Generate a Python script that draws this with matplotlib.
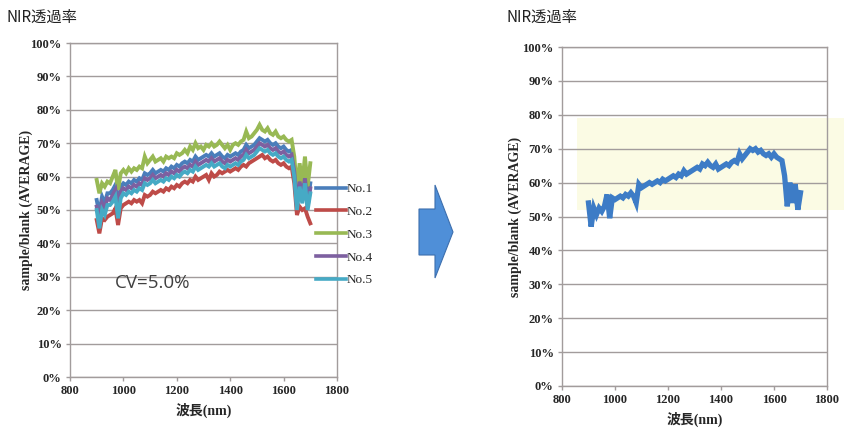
import matplotlib
matplotlib.use("Agg")
import matplotlib.pyplot as plt
import numpy as np
from matplotlib.ticker import PercentFormatter, MultipleLocator
from matplotlib.patches import Polygon, Rectangle

# ---------------- data ----------------
wavelength = list(range(900, 1701, 10))

no1 = [53, 49, 54, 52, 55, 55, 56, 57.5, 51, 57, 58, 57.5, 58.5, 58, 59, 58.5, 59.5, 59, 61, 60.5,
       61, 62, 61, 61.5, 62, 61.5, 62.5, 62, 63, 62.5, 63.5, 63, 64, 64.5, 64, 65, 64.5, 66, 65, 65.5,
       66, 66.5, 66, 67, 66, 66.5, 67, 66, 65.5, 66.5, 66, 66.5, 67, 66.5, 67.5, 68, 69.5, 68.5, 69, 69.5,
       70.5, 71.5, 71, 70.5, 71, 70, 69.5, 70, 69, 68.5, 69, 68, 67.5, 68, 63, 52, 60, 54, 61, 52, 58]
no2 = [47, 43, 47.5, 47, 48, 48.5, 49, 50.5, 45.5, 50.5, 51.5, 52, 52.5, 52, 53, 52.5, 53, 52, 54.5, 54,
       54.5, 55.5, 55, 55.5, 56, 55.5, 56.5, 56, 57, 56.5, 57.5, 57, 58, 58.5, 58, 59, 58.5, 60, 59, 59.5,
       60, 60.5, 59, 61, 60, 60.5, 61.5, 61, 61.5, 62, 61.5, 62, 62.5, 62, 63, 63.5, 63, 64, 64.5, 65,
       65.5, 66, 66.5, 65.5, 66, 65, 64.5, 65, 64, 63.5, 64, 63, 62.5, 63, 58, 48.5, 51, 50, 50.5, 48, 46]
no3 = [59, 55, 58, 57, 58.5, 58, 60, 62, 56, 61, 62, 61, 62.5, 61.5, 62.5, 62, 63, 62.5, 66, 64,
       65, 66, 64.5, 65, 65.5, 64.5, 66, 65.5, 66, 65.5, 67, 66.5, 67, 68, 67, 69, 68, 70, 68.5, 69,
       68, 69.5, 69, 70, 69, 69.5, 70.5, 69.5, 68.5, 69.5, 68, 69.5, 70, 69.5, 70.5, 71, 73.5, 71.5, 72, 73,
       74, 75.5, 74, 73.5, 74.5, 73, 72.5, 73.5, 72, 71.5, 72, 71, 70.5, 71, 66, 56, 64, 58, 66, 57, 64]
no4 = [51, 47, 52, 50.5, 53.5, 53, 54.5, 56, 49.5, 55.5, 56.5, 56, 57, 56.5, 57.5, 57, 58, 57.5, 59.5, 59,
       59.5, 60.5, 59.5, 60, 60.5, 60, 61, 60.5, 61.5, 61, 62, 61.5, 62.5, 63, 62.5, 63.5, 63, 64.5, 63.5, 64,
       64.5, 65, 64.5, 65.5, 64.5, 65, 65.5, 64.5, 64, 65, 64.5, 65, 65.5, 65, 66, 66.5, 68, 67, 67.5, 68,
       69, 70, 69.5, 69, 69.5, 68.5, 68, 68.5, 67.5, 67, 67.5, 66.5, 66, 66.5, 61.5, 51, 58.5, 53, 59.5, 51, 56.5]
no5 = [50, 44.5, 50, 48.5, 51.5, 51.5, 52.5, 54, 47.5, 53.5, 55, 54.5, 55.5, 55, 56, 55.5, 56.5, 56, 58, 57.5,
       58, 59, 58, 58.5, 59, 58.5, 59.5, 59, 60, 59.5, 60.5, 60, 61, 61.5, 61, 62, 61.5, 63, 62, 62.5,
       63, 63.5, 63, 64, 63, 63.5, 64, 63, 62.5, 63.5, 63, 63.5, 64, 63.5, 64.5, 65, 66.5, 65.5, 66, 66.5,
       67.5, 68.5, 68, 67.5, 68, 67, 66.5, 67, 66, 65.5, 66, 65, 64.5, 65, 60, 50, 57, 52, 58, 50, 55]
average = [54, 47, 52.5, 50.5, 52.5, 51.5, 53, 56.5, 49.5, 55.5, 55, 55.5, 56, 55.5, 56.5, 56, 57, 56, 54, 59.5,
           58.5, 59, 59.5, 60, 59.5, 60, 60.5, 60, 61, 60.5, 61, 61.5, 62, 61.5, 62.5, 62, 63.5, 62.5, 63, 63.5,
           64, 64.5, 64, 65.5, 65, 66, 65, 64.5, 65.5, 64, 64.5, 65, 65.5, 65, 66, 66.5, 66, 68.5, 67, 68,
           69, 70, 69.5, 70, 69, 69.5, 68.5, 68, 68.5, 67.5, 68.5, 67.5, 67, 66.5, 62, 53, 60, 54, 59.5, 52, 57]

series_names = ["No.1", "No.2", "No.3", "No.4", "No.5"]
series_values = [no1, no2, no3, no4, no5]
series_colors = ["#4a7ebb", "#be4b48", "#98b954", "#7d60a0", "#46aac5"]

x_ticks = [800, 1000, 1200, 1400, 1600, 1800]
title_text = "NIR透過率"
cv_text = "CV=5.0%"
x_label = "波長(nm)"
y_label = "sample/blank (AVERAGE)"

# ---------------- figure ----------------
W, H = 845, 428
fig = plt.figure(figsize=(W / 100, H / 100), dpi=100)

def fx(px):
    return px / W

def fy(py):
    return 1 - py / H

serif = ["Liberation Serif", "Noto Sans CJK JP"]
grid_c = "#a29c9c"
tick_c = "#262626"


def style_axes(ax):
    ax.set_xlim(800, 1800)
    ax.set_ylim(0, 100)
    ax.set_xticks(x_ticks)
    ax.yaxis.set_major_locator(MultipleLocator(10))
    ax.yaxis.set_major_formatter(PercentFormatter(xmax=100, decimals=0))
    ax.grid(axis="y", color=grid_c, lw=1.0)
    ax.set_axisbelow(True)
    for s in ax.spines.values():
        s.set_color(grid_c)
        s.set_linewidth(1.0)
    ax.tick_params(axis="both", direction="out", length=3, width=1, color=grid_c,
                   labelcolor=tick_c, pad=3)
    for lab in ax.get_xticklabels() + ax.get_yticklabels():
        lab.set_fontfamily("Liberation Serif")
        lab.set_fontweight("bold")
        lab.set_fontsize(9)
    ax.set_facecolor("none")


# left axes
axL = fig.add_axes([fx(70), fy(377), fx(337) - fx(70), fy(43) - fy(377)])
for name, vals, col in zip(series_names, series_values, series_colors):
    axL.plot(wavelength, vals, color=col, lw=2.8, label=name, solid_joinstyle="miter")
style_axes(axL)
axL.set_xlabel(x_label, family=serif, fontweight="bold", fontsize=10, labelpad=4, color=tick_c)
axL.set_ylabel(y_label, family=serif, fontweight="bold", fontsize=10, labelpad=-2, color=tick_c)
leg = axL.legend(loc="upper left", bbox_to_anchor=(fx(316), fy(183)), bbox_transform=fig.transFigure,
                 frameon=False, handlelength=2.3, handletextpad=0.05, labelspacing=0.8,
                 borderpad=0, borderaxespad=0, prop={"family": "Liberation Serif", "size": 9.5})
for t in leg.get_texts():
    t.set_color(tick_c)
for l in leg.get_lines():
    l.set_linewidth(2.6)

fig.text(fx(115), fy(283), cv_text, family="Open Sans", fontsize=13.5, color="#404040",
         va="center", ha="left")

# right axes
axR = fig.add_axes([fx(562), fy(386), fx(827) - fx(562), fy(47) - fy(386)])
axR.add_patch(Rectangle((fx(577), fy(210)), fx(845) - fx(577), fy(118) - fy(210),
                        transform=fig.transFigure, facecolor="#fbfbe4", edgecolor="none",
                        zorder=0, clip_on=False))
axR.plot(wavelength, average, color="#3d7cc6", lw=3.8, solid_joinstyle="miter")
style_axes(axR)
axR.set_xlabel(x_label, family=serif, fontweight="bold", fontsize=10, labelpad=4, color=tick_c)
axR.set_ylabel(y_label, family=serif, fontweight="bold", fontsize=10, labelpad=0, color=tick_c)

# titles
fig.text(fx(7), fy(17), title_text, family=["Noto Sans CJK JP", "DejaVu Sans"], fontsize=11,
         va="center", ha="left", color="#222222")
fig.text(fx(507), fy(17), title_text, family=["Noto Sans CJK JP", "DejaVu Sans"], fontsize=11,
         va="center", ha="left", color="#222222")

# arrow
arrow_px = [(419, 209), (435, 209), (435, 185), (453, 232), (435, 278), (435, 255), (419, 255)]
fig.patches.append(Polygon([(fx(a), fy(b)) for a, b in arrow_px], closed=True,
                           transform=fig.transFigure, facecolor="#4f8fd8",
                           edgecolor="#3d6fae", lw=0.8))

fig.savefig("out.png", dpi=100)
